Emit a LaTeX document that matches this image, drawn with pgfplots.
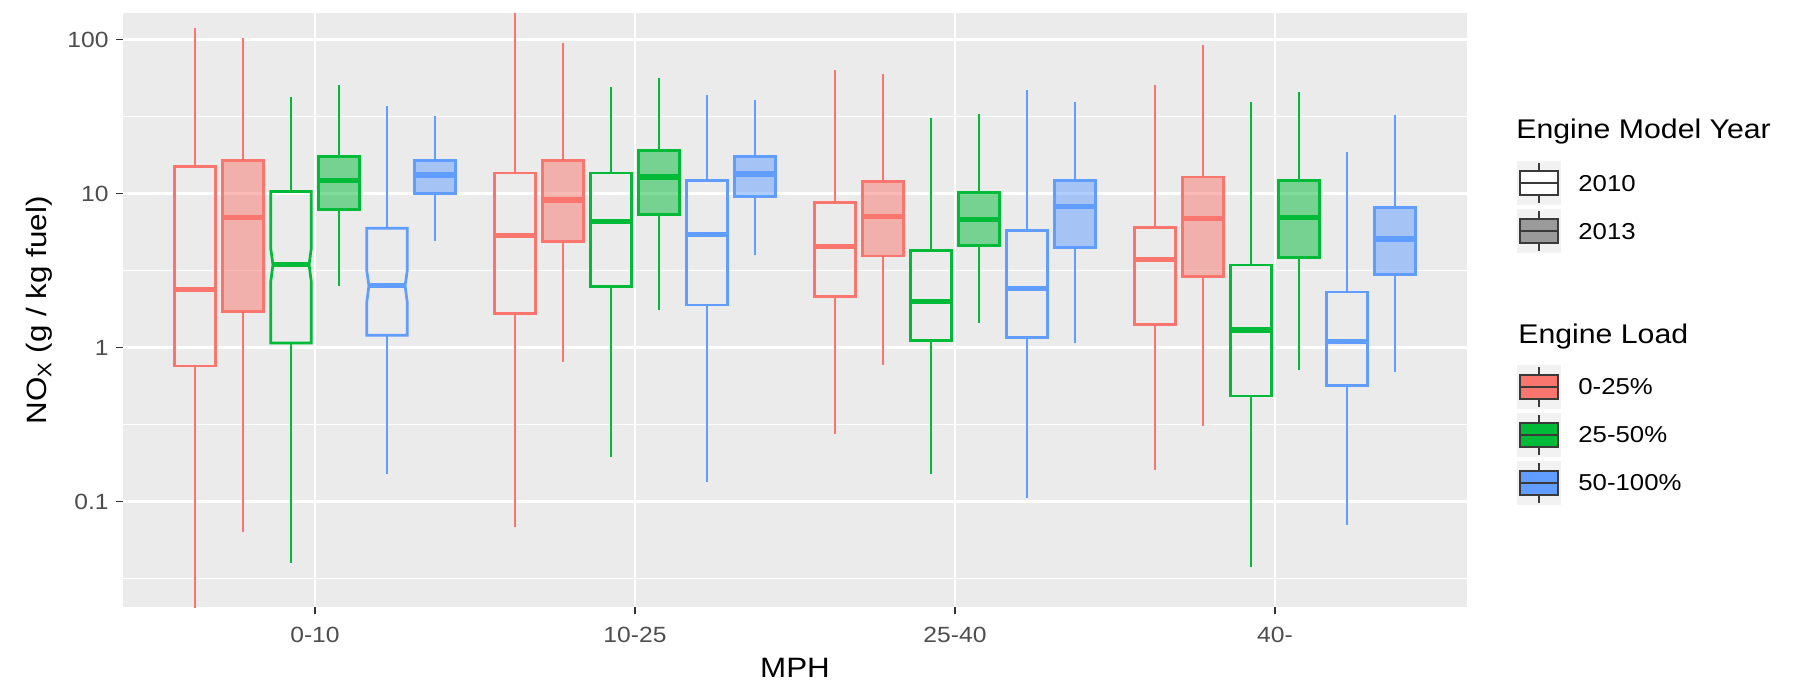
\documentclass[border=0pt]{standalone}
\usepackage{pgfplots}
\pgfplotsset{compat=1.18}
\usepackage{fontspec}
\setmainfont{Liberation Sans}[FakeStretch=1.12]
\definecolor{ggred}{HTML}{F8766D}
\definecolor{gggreen}{HTML}{00BA38}
\definecolor{ggblue}{HTML}{619CFF}
\definecolor{ggbg}{HTML}{EBEBEB}
\definecolor{ggtick}{HTML}{333333}
\definecolor{ggtext}{HTML}{4D4D4D}
\definecolor{keybg}{HTML}{F2F2F2}
\definecolor{keyline}{HTML}{3A3A3A}
\definecolor{keygray}{HTML}{9A9A9A}
\pgfplotsset{
  bxa/.style={draw=#1, line width=1.35pt, solid, mark=none},
  bxb/.style={draw=#1, line width=1.35pt, solid, mark=none, fill=#1, fill opacity=0.5},
}
% style, colour, position, lower whisker, Q1, median, Q3, upper whisker
\newcommand{\bx}[8]{%
  \pgfmathsetmacro\xl{#3-0.0635}%
  \pgfmathsetmacro\xr{#3+0.0635}%
  \edef\bxtmp{%
    \noexpand\addplot[#1=#2] coordinates {(#3,#4) (#3,#5)};%
    \noexpand\addplot[#1=#2] coordinates {(#3,#7) (#3,#8)};%
    \noexpand\addplot[#1=#2] coordinates {(\xl,#5) (\xr,#5) (\xr,#7) (\xl,#7)} --cycle;%
    \noexpand\addplot[#1=#2, line width=2.6pt] coordinates {(\xl,#6) (\xr,#6)};%
  }\bxtmp}
% notch limits for the next notched box
\newcommand{\setnotch}[2]{\def\nlo{#1}\def\nhi{#2}}
% notched box: same arguments as \bx
\newcommand{\bxn}[8]{%
  \pgfmathsetmacro\xl{#3-0.0635}%
  \pgfmathsetmacro\xr{#3+0.0635}%
  \pgfmathsetmacro\xli{#3-0.0565}%
  \pgfmathsetmacro\xri{#3+0.0565}%
  \edef\bxtmp{%
    \noexpand\addplot[#1=#2] coordinates {(#3,#4) (#3,#5)};%
    \noexpand\addplot[#1=#2] coordinates {(#3,#7) (#3,#8)};%
    \noexpand\addplot[#1=#2] coordinates {(\xl,#5) (\xr,#5) (\xr,\nlo) (\xri,#6) (\xr,\nhi) (\xr,#7) (\xl,#7) (\xl,\nhi) (\xli,#6) (\xl,\nlo)} --cycle;%
    \noexpand\addplot[#1=#2, line width=2.6pt] coordinates {(\xli,#6) (\xri,#6)};%
  }\bxtmp}
\newcommand{\legkey}[2]{% y centre, fill
  \fill[keybg] (758.25pt,{#1-11pt}) rectangle (780.25pt,{#1+11pt});
  \draw[keyline, line width=1pt] (769.25pt,{#1-10pt}) -- (769.25pt,{#1-6pt});
  \draw[keyline, line width=1pt] (769.25pt,{#1+6pt}) -- (769.25pt,{#1+10pt});
  \filldraw[fill=#2, draw=keyline, line width=1pt] (759.75pt,{#1-6pt}) rectangle (778.75pt,{#1+6pt});
  \draw[keyline, line width=1pt] (759.75pt,#1) -- (778.75pt,#1);
}
\begin{document}
\begin{tikzpicture}
\useasboundingbox (0,0) rectangle (904.5pt,341pt);
\begin{axis}[
  at={(61.5pt,37.35pt)}, anchor=south west,
  width=672pt, height=297pt, scale only axis,
  xmin=0.4, xmax=4.6,
  ymode=log, ymin=0.02056, ymax=147.9,
  xtick={1,2,3,4}, xticklabels={0-10,10-25,25-40,40-},
  ytick={0.1,1,10,100}, yticklabels={0.1,1,10,100},
  minor ytick={0.0316228,0.316228,3.16228,31.6228},
  xmajorgrids, ymajorgrids, yminorgrids,
  major grid style={white, line width=1.1pt},
  minor grid style={white, line width=0.55pt},
  axis background/.style={fill=ggbg},
  axis line style={draw=none},
  tick pos=left, tick align=outside,
  major tick length=3.5pt, minor tick length=0pt,
  tick style={ggtick, line width=0.8pt},
  xticklabel style={anchor=center, inner sep=0pt, yshift=-10.2pt, font=\fontsize{11}{13}\selectfont, text=ggtext},
  yticklabel style={anchor=east, inner sep=0pt, xshift=-3.5pt, font=\fontsize{11}{13}\selectfont, text=ggtext},
]
% 0-10
\bx{bxa}{ggred}{0.625}{0.01}{0.76}{2.37}{14.9}{118}
\bx{bxb}{ggred}{0.775}{0.063}{1.71}{7.0}{16.3}{102}
\setnotch{2.66}{4.43}
\bxn{bxa}{gggreen}{0.925}{0.040}{1.07}{3.45}{10.3}{42}
\bx{bxb}{gggreen}{1.075}{2.5}{7.87}{12.2}{17.4}{51}
\setnotch{1.95}{3.18}
\bxn{bxa}{ggblue}{1.225}{0.152}{1.2}{2.52}{5.95}{36.8}
\bx{bxb}{ggblue}{1.375}{4.93}{10.0}{13.2}{16.3}{31.7}
% 10-25
\bx{bxa}{ggred}{1.625}{0.068}{1.66}{5.33}{13.6}{200}
\bx{bxb}{ggred}{1.775}{0.81}{4.9}{9.07}{16.3}{95.5}
\bx{bxa}{gggreen}{1.925}{0.195}{2.48}{6.56}{13.6}{49}
\bx{bxb}{gggreen}{2.075}{1.74}{7.28}{12.8}{19.1}{56}
\bx{bxa}{ggblue}{2.225}{0.134}{1.89}{5.44}{12.2}{43.3}
\bx{bxb}{ggblue}{2.375}{3.98}{9.56}{13.4}{17.4}{40.6}
% 25-40
\bx{bxa}{ggred}{2.625}{0.273}{2.15}{4.53}{8.78}{63.5}
\bx{bxb}{ggred}{2.775}{0.771}{3.93}{7.05}{12.0}{59.5}
\bx{bxa}{gggreen}{2.925}{0.152}{1.11}{1.99}{4.25}{30.7}
\bx{bxb}{gggreen}{3.075}{1.44}{4.59}{6.78}{10.2}{32.8}
\bx{bxa}{ggblue}{3.225}{0.105}{1.16}{2.42}{5.76}{46.8}
\bx{bxb}{ggblue}{3.375}{1.07}{4.47}{8.28}{12.1}{39.0}
% 40-
\bx{bxa}{ggred}{3.625}{0.161}{1.41}{3.73}{5.99}{50.6}
\bx{bxb}{ggred}{3.775}{0.311}{2.88}{6.91}{12.8}{92.5}
\bx{bxa}{gggreen}{3.925}{0.0373}{0.484}{1.30}{3.43}{39.0}
\bx{bxb}{gggreen}{4.075}{0.714}{3.85}{7.0}{12.2}{45.3}
\bx{bxa}{ggblue}{4.225}{0.0705}{0.569}{1.09}{2.29}{18.5}
\bx{bxb}{ggblue}{4.375}{0.69}{2.97}{5.06}{8.13}{32.3}
\end{axis}
% axis titles
\node[anchor=center, inner sep=0pt, font=\fontsize{14}{16}\selectfont] at (397.5pt,7.25pt) {MPH};
\node[rotate=90, anchor=base, inner sep=0pt, font=\fontsize{14}{16}\selectfont] at (23.5pt,185.85pt) {NO\textsubscript{X} (g / kg fuel)};
% legend
\node[anchor=base west, inner sep=0pt, font=\fontsize{13.5}{16}\selectfont] at (758pt,272pt) {Engine Model Year};
\legkey{249.5pt}{white}
\legkey{225.5pt}{keygray}
\node[anchor=west, inner sep=0pt, font=\fontsize{11.5}{14}\selectfont] at (789pt,249pt) {2010};
\node[anchor=west, inner sep=0pt, font=\fontsize{11.5}{14}\selectfont] at (789pt,225pt) {2013};
\node[anchor=base west, inner sep=0pt, font=\fontsize{13.5}{16}\selectfont] at (759pt,169.35pt) {Engine Load};
\legkey{147.75pt}{ggred}
\legkey{123.75pt}{gggreen}
\legkey{99.75pt}{ggblue}
\node[anchor=west, inner sep=0pt, font=\fontsize{11.5}{14}\selectfont] at (789pt,147.75pt) {0-25\%};
\node[anchor=west, inner sep=0pt, font=\fontsize{11.5}{14}\selectfont] at (789pt,123.75pt) {25-50\%};
\node[anchor=west, inner sep=0pt, font=\fontsize{11.5}{14}\selectfont] at (789pt,99.75pt) {50-100\%};
\end{tikzpicture}
\end{document}
